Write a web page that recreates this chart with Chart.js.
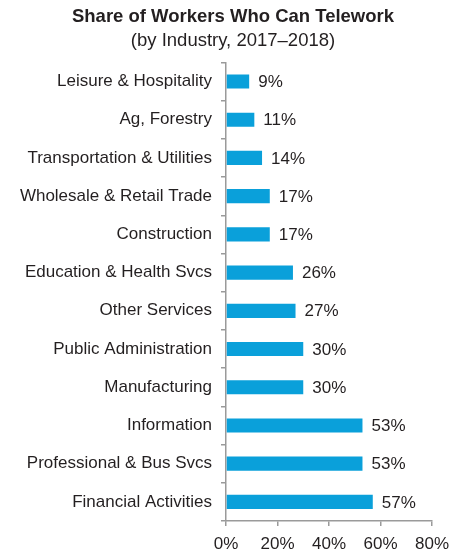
<!DOCTYPE html>
<html>
<head>
<meta charset="utf-8">
<script src="https://cdn.jsdelivr.net/npm/chart.js@4"></script>
<style>
  html, body { margin: 0; padding: 0; background: #fff; }
  canvas { display: block; }
</style>
</head>
<body>
<canvas id="teleworkChart" width="466" height="554"></canvas>
<script>
// Branchen und Anteil (%) der Beschäftigten mit Telearbeit
const industries = [
  'Leisure & Hospitality',
  'Ag, Forestry',
  'Transportation & Utilities',
  'Wholesale & Retail Trade',
  'Construction',
  'Education & Health Svcs',
  'Other Services',
  'Public Administration',
  'Manufacturing',
  'Information',
  'Professional & Bus Svcs',
  'Financial Activities'
];
const shares = [9, 11, 14, 17, 17, 26, 27, 30, 30, 53, 53, 57];
const xTicks = [0, 20, 40, 60, 80];

const FONT = "'Liberation Sans', Arial, Helvetica, sans-serif";
const TEXT = '#231f20';
const AXIS = '#9a9a9a';

// Wertbeschriftung rechts neben jedem Balken
const valueLabels = {
  id: 'valueLabels',
  afterDatasetsDraw(chart) {
    const ctx = chart.ctx;
    const meta = chart.getDatasetMeta(0);
    ctx.save();
    ctx.font = '17px ' + FONT;
    ctx.fillStyle = TEXT;
    ctx.textAlign = 'left';
    ctx.textBaseline = 'middle';
    meta.data.forEach((bar, i) => {
      ctx.fillText(shares[i] + '%', bar.x + 9, bar.y + 1);
    });
    ctx.restore();
  }
};

new Chart(document.getElementById('teleworkChart'), {
  type: 'bar',
  data: {
    labels: industries,
    datasets: [{
      data: shares,
      backgroundColor: '#0aa0da',
      borderWidth: 0,
      barPercentage: 0.37,
      categoryPercentage: 1
    }]
  },
  options: {
    indexAxis: 'y',
    responsive: false,
    animation: false,
    layout: { padding: 0 },
    plugins: {
      legend: { display: false },
      tooltip: { enabled: false },
      title: {
        display: true,
        text: 'Share of Workers Who Can Telework',
        color: TEXT,
        font: { family: FONT, size: 18.5, weight: 'bold' },
        padding: { top: 6, bottom: 0 }
      },
      subtitle: {
        display: true,
        text: '(by Industry, 2017–2018)',
        color: TEXT,
        font: { family: FONT, size: 18.5 },
        padding: { top: 2, bottom: 10 }
      }
    },
    scales: {
      x: {
        min: 0,
        max: 80,
        afterBuildTicks(scale) {
          scale.ticks = xTicks.map(v => ({ value: v }));
        },
        afterFit(scale) { scale.height = 33; },
        border: { color: AXIS, width: 1.5 },
        grid: { drawOnChartArea: false, color: AXIS, lineWidth: 1.5, tickLength: 5 },
        ticks: {
          color: TEXT,
          padding: 8,
          font: { family: FONT, size: 17 },
          callback: v => v + '%'
        }
      },
      y: {
        afterFit(scale) { scale.width = 226; },
        border: { color: AXIS, width: 1.5 },
        grid: { drawOnChartArea: false, color: AXIS, lineWidth: 1.5, tickLength: 5 },
        ticks: {
          color: TEXT,
          padding: 9,
          font: { family: FONT, size: 17 }
        }
      },
      // leere Achse rechts: Platz für die Beschriftung „80%“, Titel bleibt mittig
      yRight: {
        axis: 'y',
        position: 'right',
        afterFit(scale) { scale.width = 34; },
        border: { display: false },
        grid: { display: false },
        ticks: { display: false }
      }
    }
  },
  plugins: [valueLabels]
});
</script>
</body>
</html>
